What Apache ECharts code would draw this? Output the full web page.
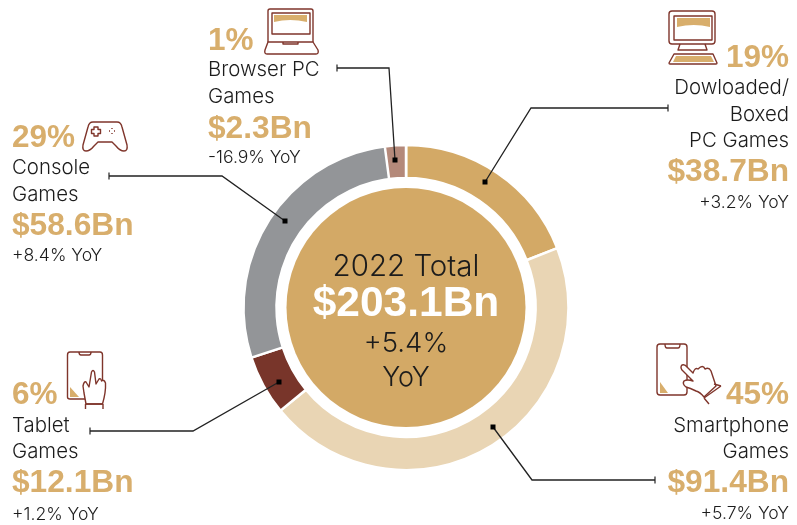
<!DOCTYPE html>
<html><head><meta charset="utf-8">
<style>html,body{margin:0;padding:0;background:#fff}#c{width:797px;height:525px}</style>
<script src="https://cdn.jsdelivr.net/npm/echarts@6/dist/echarts.min.js"></script>
</head><body><div id="c"></div>
<script>
const categories = ['Dowloaded/Boxed PC Games','Smartphone Games','Tablet Games','Console Games','Browser PC Games'];
const revenue = [38.7, 91.4, 12.1, 58.6, 2.3];
const shares = ['19%','45%','6%','29%','1%'];
const yoy = ['+3.2% YoY','+5.7% YoY','+1.2% YoY','+8.4% YoY','-16.9% YoY'];
const total = 203.1;
const totalYoy = '+5.4%';

const ringColors = ['#d3a966','#e9d5b4','#78352a','#939598','#b4897a'];
const GOLD = '#d8ae6c', INK = '#1c1c1c', LINE = '#7f352b';
const LIGHT = 'Inter', BOLD = '"Liberation Sans"';
const Z = 100;
const S_NAME = 20.4, S_YOY = 17.6, S_PCT = 31.5, S_MONEY = 31.7;

function t(text, x, base, size, opt) {
  opt = opt || {};
  const bold = opt.bold;
  return {type:'text', silent:true, z:Z, style:{
    text, x, y: base - size*0.29,
    fill: opt.fill || (bold ? GOLD : INK),
    font: (bold ? 'bold ' : '300 ') + size + 'px ' + (bold ? BOLD : LIGHT),
    align: opt.align || 'left', verticalAlign:'middle'}};
}
function money(v){return '$' + v.toFixed(1) + 'Bn';}
const R = {align:'right'};
const texts = [
  // Browser
  t(shares[4],208,50,S_PCT,{bold:1}), t('Browser PC',208,76,S_NAME), t('Games',208,103,S_NAME),
  t(money(revenue[4]),208,138,S_MONEY,{bold:1}), t(yoy[4],208,163,S_YOY),
  // Console
  t(shares[3],12,147,S_PCT,{bold:1}), t('Console',12,174,S_NAME), t('Games',12,201,S_NAME),
  t(money(revenue[3]),12,235,S_MONEY,{bold:1}), t(yoy[3],12,261,S_YOY),
  // Downloaded
  t(shares[0],789,67,S_PCT,{bold:1,align:'right'}), t('Dowloaded/',789,94,S_NAME,R),
  t('Boxed',789,121,S_NAME,R), t('PC Games',789,147,S_NAME,R),
  t(money(revenue[0]),789,181,S_MONEY,{bold:1,align:'right'}), t(yoy[0],789,208,S_YOY,R),
  // Tablet
  t(shares[2],12,404,S_PCT,{bold:1}), t('Tablet',12,432,S_NAME), t('Games',12,458,S_NAME),
  t(money(revenue[2]),12,492,S_MONEY,{bold:1}), t(yoy[2],12,520,S_YOY),
  // Smartphone
  t(shares[1],789,404,S_PCT,{bold:1,align:'right'}), t('Smartphone',789,432,S_NAME,R),
  t('Games',789,458,S_NAME,R),
  t(money(revenue[1]),789,492,S_MONEY,{bold:1,align:'right'}), t(yoy[1],789,519,S_YOY,R),
  // Centre
  t('2022 Total',406,276,29.5,{align:'center'}),
  t(money(total),406,317,42.5,{bold:1,fill:'#fff',align:'center'}),
  t(totalYoy,406,352,27.5,{align:'center'}),
  t('YoY',406,386,27,{align:'center'})
];

const leaders = [
  [[337,68],[389,68],[395,160]],
  [[109,176],[222,176],[285,221]],
  [[668,108],[531,108],[485,182]],
  [[90,431],[193,431],[279,382]],
  [[655,480],[532,480],[493,427]]
];
const leaderEls = [];
leaders.forEach(p=>{
  leaderEls.push({type:'polyline',silent:true,z:Z,shape:{points:p},style:{stroke:'#222',lineWidth:1.3,fill:null}});
  const [x,y]=p[0];
  leaderEls.push({type:'line',silent:true,z:Z,shape:{x1:x,y1:y-3.5,x2:x,y2:y+3.5},style:{stroke:'#222',lineWidth:1.2}});
  const [a,b]=p[2];
  leaderEls.push({type:'rect',silent:true,z:Z,shape:{x:a-2.5,y:b-2.5,width:5,height:5},style:{fill:'#000'}});
});

let shapeId = 0;
function pathEl(d, style){
  const name = 'icon' + (shapeId++);
  echarts.graphic.registerShape(name, echarts.graphic.extendPath(d, {}));
  return {type:name,silent:true,z:Z,style};
}
function stroke(d,fill){return pathEl(d,{stroke:LINE,lineWidth:1.4,fill:fill||'none',lineJoin:'round'});}
function gold(d){return pathEl(d,{fill:GOLD,stroke:'none'});}
const icons = [
  // laptop
  stroke('M268 42 V11 Q268 9 270 9 H311 Q313 9 313 11 V42'),
  stroke('M272 13 H310 V34 H272 Z'),
  gold('M274 15 H307 V22 Q290 18 274 22 Z'),
  stroke('M268 42 H313 L318 50 Q319 54 316 54 H267 Q264 54 265 50 Z'),
  stroke('M283 42 V44 H298 V42'),
  // desktop
  stroke('M672 11 H712 Q715 11 715 14 V41 Q715 44 712 44 H672 Q669 44 669 41 V14 Q669 11 672 11 Z'),
  stroke('M674 16 H712 V40 H674 Z'),
  gold('M677 18 H710 V27 Q694 23 677 27 Z'),
  stroke('M680 44 L678 50 H707 L705 44'),
  stroke('M674 54 H713 L717 63 Q717 64 716 64 H670 Q669 64 669 63 Z'),
  gold('M676 56 H711 L714 62 H673 Z'),
  // gamepad
  stroke('M93 122 H117 Q121 122 122 127 L127 145 Q128 151 124 151 Q120 151 116 146 L112 142 H98 L94 146 Q90 151 86 151 Q82 151 83 145 L88 127 Q89 122 93 122 Z'),
  stroke('M94 127 H98 V129.5 H100.5 V133.5 H98 V136 H94 V133.5 H91.5 V129.5 H94 Z'),
  stroke('M112 128 V129 M112 133 V134 M109 131 H110 M114 131 H115'),
  // tablet
  stroke('M70 352 H100 Q102.5 352 102.5 355 V397 Q102.5 399 100 399 H70 Q67.5 399 67.5 397 V355 Q67.5 352 70 352 Z'),
  stroke('M79 352 Q79 355 81 355 H89 Q91 355 91 352'),
  gold('M70 387 L79 397 H70 Z'),
  stroke('M86 404 L84 393 L83 386 Q84 381 86 382 L89 387 L91.5 372 Q93 369 94.5 372 L96 384 L99 379 Q101 378 101.5 381 Q104 379 105.5 383 Q106 392 102.5 404 Z','#fff'),
  stroke('M85.5 404 V409 M103 404 V409 M85.5 404 H103'),
  // smartphone
  stroke('M660 344 H684 Q687 344 687 347 V392 Q687 395 684 395 H660 Q657 395 657 392 V347 Q657 344 660 344 Z'),
  stroke('M665 344 Q665 348 667 348 H678 Q680 348 680 344'),
  gold('M660 382 L668 393 H660 Z'),
  stroke('M682 365 Q685 364 687 367 L693 373 Q695 367 698 369 Q703 364 705 369 Q709 367 711 371 L716 386 L704 397 Q700 392 696 391 Q690 388 686 387 Q682 384 684 381 Q687 379 693 381 L682 370 Q680 367 682 365 Z','#fff'),
  stroke('M714 384 L721 386 M721 386 L704 398 M704 398 L709 404')
];

const ringCenter = [406,307.5], ringRadius = [129.5,162.5];
const chart = echarts.init(document.getElementById('c'),null,{renderer:'canvas'});
chart.setOption({
  animation:false,
  backgroundColor:'#fff',
  series:[
    {type:'pie',silent:true,center:ringCenter,radius:ringRadius,startAngle:90,clockwise:true,
     label:{show:false},labelLine:{show:false},
     itemStyle:{borderColor:'#fff',borderWidth:2.5},
     data:categories.map((name,i)=>({name,value:revenue[i],itemStyle:{color:ringColors[i]}}))},
    // The reference draws the browser wedge wider than its value, overlapping the console arc.
    {type:'pie',silent:true,center:ringCenter,radius:ringRadius,startAngle:97.5,clockwise:true,z:3,
     minAngle:7.5,label:{show:false},labelLine:{show:false},
     data:[
       {name:categories[4],value:revenue[4],itemStyle:{color:ringColors[4],borderColor:'#fff',borderWidth:2.5}},
       {name:'rest',value:total-revenue[4],itemStyle:{color:'transparent',borderWidth:0}}
     ]},
    {type:'pie',silent:true,center:ringCenter,radius:[0,119.5],label:{show:false},labelLine:{show:false},
     data:[{name:'2022 Total',value:total,itemStyle:{color:'#d3a966'}}]}
  ],
  graphic:{elements:[...leaderEls,...icons,...texts]}
});
</script></body></html>
